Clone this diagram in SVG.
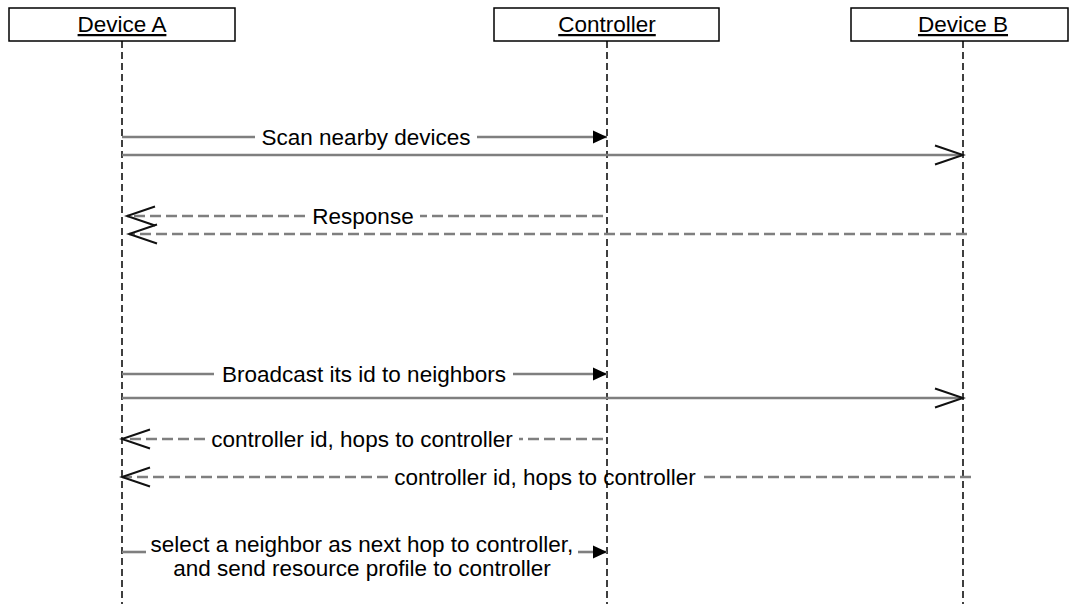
<svg xmlns="http://www.w3.org/2000/svg" width="1070" height="604" viewBox="0 0 1070 604">
  <style>
    .box { fill: #ffffff; stroke: #000000; stroke-width: 1.5; }
    .head { font-family: "Liberation Sans", Arial, Helvetica, sans-serif; font-size: 22.5px; fill: #000000; text-anchor: middle; text-decoration: underline; }
    .life { stroke: #000000; stroke-width: 1.5; stroke-dasharray: 7 4; fill: none; }
    .msg { stroke: #7f7f7f; stroke-width: 2.6; fill: none; }
    .ret { stroke: #7f7f7f; stroke-width: 2.6; fill: none; stroke-dasharray: 11 5; }
    .lbl { font-family: "Liberation Sans", Arial, Helvetica, sans-serif; font-size: 22.5px; fill: #000000; text-anchor: middle; }
  </style>
  <defs>
    <marker id="solidHead" markerUnits="userSpaceOnUse" markerWidth="15" markerHeight="14" refX="14" refY="7" orient="auto">
      <path d="M0,0.5 L14,7 L0,13.5 z" fill="#000000"/>
    </marker>
    <marker id="openHead" markerUnits="userSpaceOnUse" markerWidth="32" markerHeight="24" refX="29" refY="11" orient="auto">
      <path d="M1,1.5 L29,11 L1,20.5" fill="none" stroke="#111111" stroke-width="2"/>
    </marker>
  </defs>
  <rect width="1070" height="604" fill="#ffffff"/>

  <!-- participants -->
  <g id="device-a">
    <rect class="box" x="9" y="8" width="226" height="33"/>
    <text class="head" x="122" y="32">Device A</text>
    <line class="life" x1="122" y1="41" x2="122" y2="604"/>
  </g>
  <g id="controller">
    <rect class="box" x="494" y="8" width="225" height="33"/>
    <text class="head" x="607" y="32">Controller</text>
    <line class="life" x1="607" y1="41" x2="607" y2="604"/>
  </g>
  <g id="device-b">
    <rect class="box" x="851" y="8" width="217" height="33"/>
    <text class="head" x="963" y="32">Device B</text>
    <line class="life" x1="963" y1="41" x2="963" y2="604"/>
  </g>

  <!-- messages -->
  <g id="connectors">
    <!-- scan -->
    <line class="msg" x1="122" y1="137" x2="255" y2="137"/>
    <line class="msg" x1="477" y1="137" x2="607" y2="137" marker-end="url(#solidHead)"/>
    <text class="lbl" x="366" y="145">Scan nearby devices</text>
    <line class="msg" x1="122" y1="155" x2="963" y2="155" marker-end="url(#openHead)"/>

    <!-- response -->
    <line class="ret" x1="603" y1="216" x2="420" y2="216"/>
    <line class="ret" x1="305" y1="216" x2="127" y2="216" marker-end="url(#openHead)"/>
    <text class="lbl" x="363" y="224">Response</text>
    <line class="ret" x1="967" y1="234" x2="129" y2="234" marker-end="url(#openHead)"/>

    <!-- broadcast -->
    <line class="msg" x1="122" y1="374" x2="214" y2="374"/>
    <line class="msg" x1="513" y1="374" x2="607" y2="374" marker-end="url(#solidHead)"/>
    <text class="lbl" x="364" y="382">Broadcast its id to neighbors</text>
    <line class="msg" x1="122" y1="398" x2="963" y2="398" marker-end="url(#openHead)"/>

    <!-- controller id replies -->
    <line class="ret" x1="603" y1="439" x2="519" y2="439"/>
    <line class="ret" x1="205" y1="439" x2="122" y2="439" marker-end="url(#openHead)"/>
    <text class="lbl" x="362" y="447">controller id, hops to controller</text>
    <line class="ret" x1="971" y1="477" x2="702" y2="477"/>
    <line class="ret" x1="388" y1="477" x2="122" y2="477" marker-end="url(#openHead)"/>
    <text class="lbl" x="545" y="485">controller id, hops to controller</text>

    <!-- select next hop -->
    <line class="msg" x1="122" y1="552" x2="146" y2="552"/>
    <line class="msg" x1="578" y1="552" x2="607" y2="552" marker-end="url(#solidHead)"/>
    <text class="lbl" x="362" y="552">select a neighbor as next hop to controller,</text>
    <text class="lbl" x="362" y="576">and send resource profile to controller</text>
  </g>
</svg>
